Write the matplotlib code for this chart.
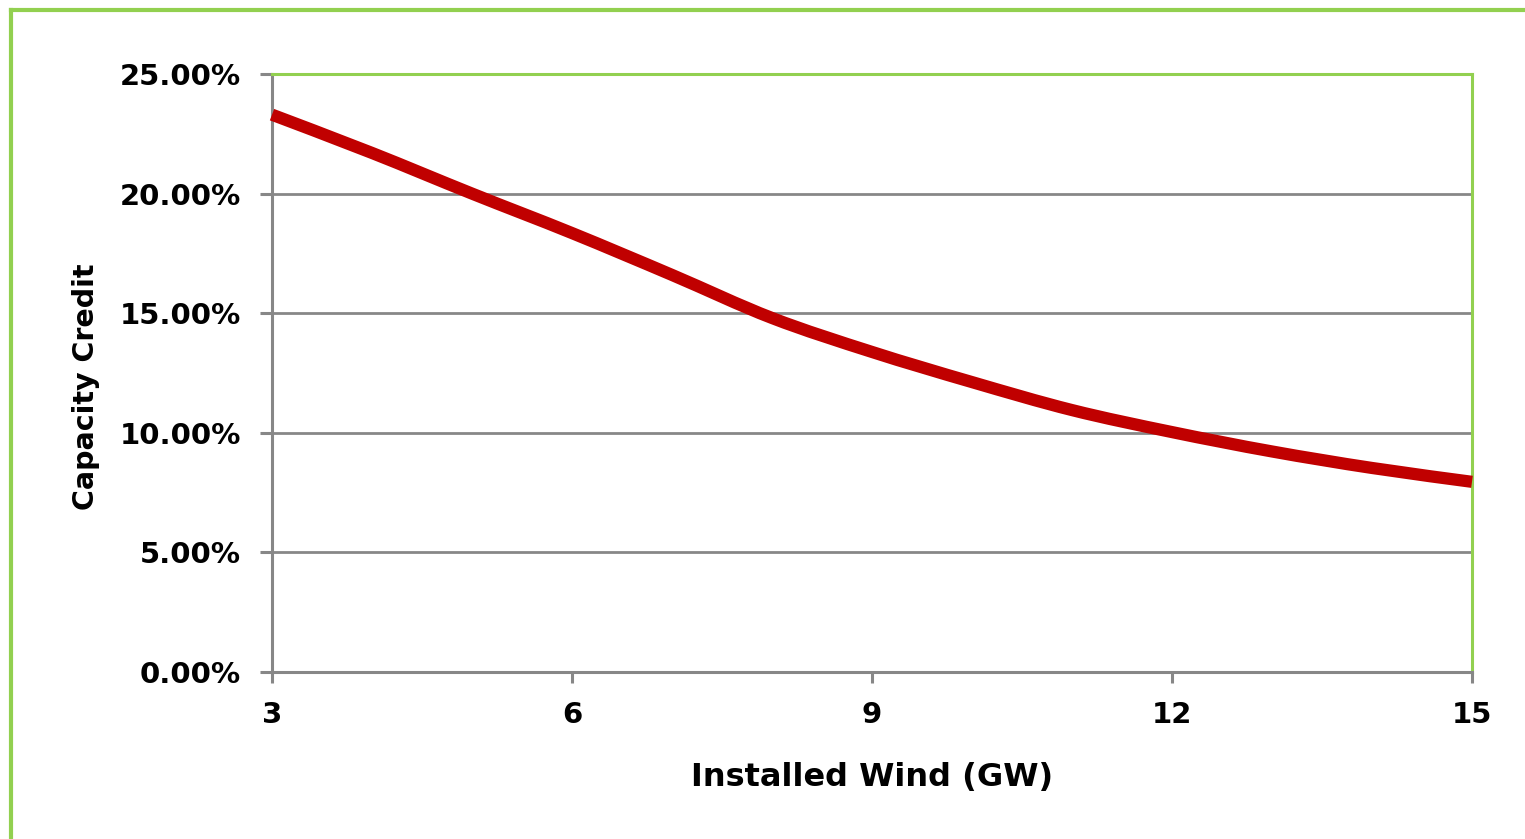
import matplotlib
matplotlib.use("Agg")
import numpy as np
import matplotlib.pyplot as plt
from matplotlib.lines import Line2D
from matplotlib.path import Path
from matplotlib.patches import PathPatch
from matplotlib.ticker import FuncFormatter

installed_gw = [3, 4, 5, 6, 7, 8, 9, 10, 11, 12, 13, 14, 15]
capacity_credit = [23.3, 21.7, 20.0, 18.35, 16.6, 14.8, 13.38, 12.12, 10.95, 10.03, 9.22, 8.53, 7.95]
x_ticks = [3, 6, 9, 12, 15]
y_ticks = [0, 5, 10, 15, 20, 25]

GREEN = "#92D050"
GRAY = "#878787"
RED = "#C00000"

plt.rcParams['font.family'] = ['DejaVu Sans']
fig = plt.figure(figsize=(15.25, 8.39), dpi=100)
fig.patch.set_facecolor("white")

# outer chart border (left and top visible)
fig.add_artist(Line2D([11/1525, 11/1525], [0, 1 - 10/839], transform=fig.transFigure, color=GREEN, lw=3))
fig.add_artist(Line2D([11/1525, 1], [1 - 10/839, 1 - 10/839], transform=fig.transFigure, color=GREEN, lw=3))

ax = fig.add_axes([272/1525, 1 - 672/839, 1200/1525, 598/839])

# smoothed line (Excel-style): cubic Bezier segments through the data points
xs = np.asarray(installed_gw, float)
ys = np.asarray(capacity_credit, float)
n = len(xs)
verts = [(xs[0], ys[0])]
codes = [Path.MOVETO]
for i in range(n - 1):
    p0 = np.array([xs[max(i - 1, 0)], ys[max(i - 1, 0)]])
    p1 = np.array([xs[i], ys[i]])
    p2 = np.array([xs[i + 1], ys[i + 1]])
    p3 = np.array([xs[min(i + 2, n - 1)], ys[min(i + 2, n - 1)]])
    c1 = p1 + (p2 - p0) / 6.0
    c2 = p2 - (p3 - p1) / 6.0
    verts += [tuple(c1), tuple(c2), tuple(p2)]
    codes += [Path.CURVE4, Path.CURVE4, Path.CURVE4]
ax.add_patch(PathPatch(Path(verts, codes), facecolor='none', edgecolor=RED, lw=8.8,
                       capstyle='butt', joinstyle='round', zorder=3, clip_on=False))
ax.plot(installed_gw, capacity_credit, alpha=0)

ax.set_xlim(3, 15)
ax.set_ylim(0, 25)
ax.set_xticks(x_ticks)
ax.set_yticks(y_ticks)
ax.yaxis.set_major_formatter(FuncFormatter(lambda v, p: f"{v:.2f}%"))
ax.grid(axis='y', color=GRAY, lw=2)
ax.set_axisbelow(True)

for s in ['left', 'bottom']:
    ax.spines[s].set_color(GRAY)
    ax.spines[s].set_linewidth(2.2)
for s in ['top', 'right']:
    ax.spines[s].set_color(GREEN)
    ax.spines[s].set_linewidth(2.2)

ax.tick_params(axis='y', direction='out', length=8.5, width=2.2, color=GRAY, pad=14, labelsize=21)
ax.tick_params(axis='x', direction='out', length=8, width=2.2, color=GRAY, pad=13, labelsize=21)
for lab in ax.get_xticklabels() + ax.get_yticklabels():
    lab.set_fontweight('bold')

ax.set_xlabel("Installed Wind (GW)", fontsize=23, fontweight='bold')
ax.set_ylabel("Capacity Credit", fontsize=20.5, fontweight='bold')
ax.xaxis.set_label_coords(0.5, -0.15)
ax.yaxis.set_label_coords(-0.143, 0.477)

fig.savefig("out.png", dpi=100, facecolor="white")
